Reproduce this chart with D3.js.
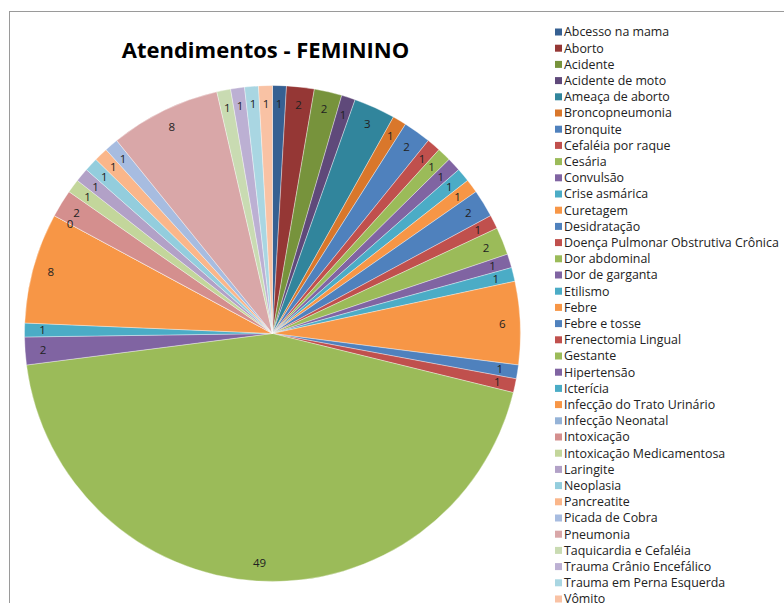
<!DOCTYPE html>
<html>
<head>
<meta charset="utf-8">
<script src="https://cdn.jsdelivr.net/npm/d3@7"></script>
<style>
  html, body { margin: 0; padding: 0; background: #fff; overflow: hidden; }
  svg { display: block; }
  .title { font-family: "Open Sans", sans-serif; font-weight: 700; fill: #000; }
  .lbl { font-family: "Open Sans", sans-serif; font-size: 11.5px; fill: #222; }
  .leg { font-family: "Open Sans", sans-serif; font-size: 12.4px; fill: #222; }
</style>
</head>
<body>
<div id="chart"></div>
<script>
const categories = [
  "Abcesso na mama", "Aborto", "Acidente", "Acidente de moto", "Ameaça de aborto",
  "Broncopneumonia", "Bronquite", "Cefaléia por raque", "Cesária", "Convulsão",
  "Crise asmárica", "Curetagem", "Desidratação", "Doença Pulmonar Obstrutiva Crônica",
  "Dor abdominal", "Dor de garganta", "Etilismo", "Febre", "Febre e tosse",
  "Frenectomia Lingual", "Gestante", "Hipertensão", "Icterícia",
  "Infecção do Trato Urinário", "Infecção Neonatal", "Intoxicação",
  "Intoxicação Medicamentosa", "Laringite", "Neoplasia", "Pancreatite",
  "Picada de Cobra", "Pneumonia", "Taquicardia e Cefaléia",
  "Trauma Crânio Encefálico", "Trauma em Perna Esquerda", "Vômito"
]
const values = [1, 2, 2, 1, 3, 1, 2, 1, 1, 1, 1, 1, 2, 1, 2, 1, 1, 6, 1, 1,
  49, 2, 1, 8, 0, 2, 1, 1, 1, 1, 1, 8, 1, 1, 1, 1]
const title = "Atendimentos - FEMININO"

// office palette: dark, normal, light variants
const darkColors = ["#366092", "#953735", "#77933C", "#5F497A", "#31859C", "#D9772B"]
const baseColors = ["#4F81BD", "#C0504D", "#9BBB59", "#8064A2", "#4BACC6", "#F79646"]
const lightColors = ["#95B3D7", "#D48F8E", "#C3D69B", "#B2A1C7", "#93CDDD", "#FAB68A"]
const lightColors2 = ["#A7BCE0", "#D9A7A8", "#C9DBB2", "#BCB0D3", "#A9D6E2", "#F9C2A4"]

function sliceColor(i) {
  if (i < 6) return darkColors[i]
  if (i < 24) return baseColors[(i - 6) % 6]
  if (i < 30) return lightColors[(i - 24) % 6]
  return lightColors2[(i - 30) % 6]
}

const width = 784, height = 603
const cx = 272.5, cy = 333.5, r = 248

const data = categories.map((c, i) => ({ name: c, value: values[i], i }))

const svg = d3.select("#chart").append("svg")
  .attr("width", width)
  .attr("height", height)

// chart area border
svg.append("rect")
  .attr("x", 9.5).attr("y", 11.5)
  .attr("width", width + 20).attr("height", height + 20)
  .attr("fill", "#fff")
  .attr("stroke", "#9a9a9a")
  .attr("stroke-width", 1)

svg.append("text")
  .attr("class", "title")
  .attr("x", 265.5).attr("y", 58)
  .attr("text-anchor", "middle")
  .style("font-size", "22px")
  .text(title)

const pie = d3.pie()
  .value(d => d.value)
  .sort(null)

const arc = d3.arc().innerRadius(0).outerRadius(r)
const labelArc = d3.arc().innerRadius(230).outerRadius(230)

const arcs = pie(data)

const g = svg.append("g")
  .attr("transform", `translate(${cx},${cy})`)

g.selectAll("path")
  .data(arcs)
  .join("path")
    .attr("d", arc)
    .attr("fill", d => sliceColor(d.data.i))
    .attr("stroke", "#fff")
    .attr("stroke-opacity", 0.6)
    .attr("stroke-width", 0.6)

g.selectAll("text")
  .data(arcs)
  .join("text")
    .attr("class", "lbl")
    .attr("transform", d => `translate(${labelArc.centroid(d)})`)
    .attr("text-anchor", "middle")
    .attr("dy", "0.35em")
    .text(d => d.data.value)

// legend
const legend = svg.append("g")
  .attr("transform", "translate(555,32)")

const rows = legend.selectAll("g")
  .data(data)
  .join("g")
    .attr("transform", (d, i) => `translate(0,${i * 16.2})`)

rows.append("rect")
  .attr("x", 0).attr("y", -3.5)
  .attr("width", 7).attr("height", 7)
  .attr("fill", d => sliceColor(d.i))

rows.append("text")
  .attr("class", "leg")
  .attr("x", 9)
  .attr("dy", "0.35em")
  .text(d => d.name)
</script>
</body>
</html>
